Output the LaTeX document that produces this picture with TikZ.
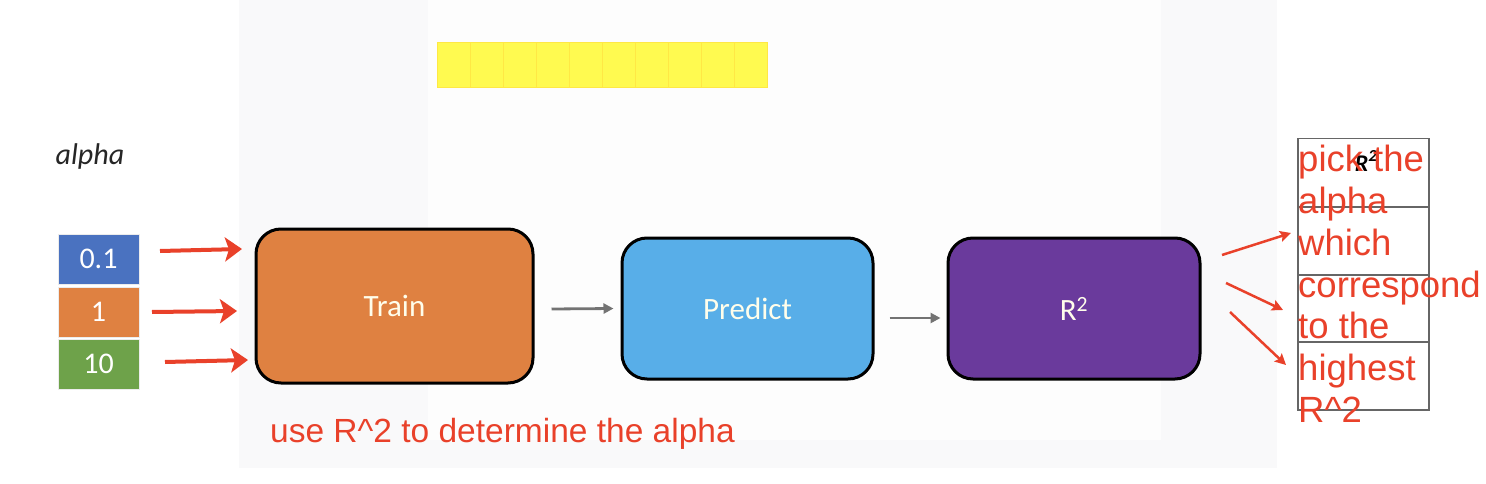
\documentclass[tikz,border=0pt]{standalone}
\usepackage{fontspec}
\setmainfont{Carlito}
\newfontfamily\notefont{Liberation Sans}
\usetikzlibrary{arrows.meta}
\definecolor{noteRed}{HTML}{E9412A}
\definecolor{alphaBlue}{HTML}{4A72C0}
\definecolor{alphaOrange}{HTML}{DF8141}
\definecolor{alphaGreen}{HTML}{6EA24A}
\definecolor{trainOrange}{HTML}{DF8141}
\definecolor{predictBlue}{HTML}{58AEE8}
\definecolor{rPurple}{HTML}{6A3A9C}
\definecolor{yellowCell}{HTML}{FFFA50}
\definecolor{panelGray}{HTML}{F9F9FA}
\definecolor{innerGray}{HTML}{FDFDFD}
\tikzset{
  alphabox/.style={draw=white!85!gray, line width=1pt, minimum width=81pt, minimum height=50pt, inner sep=0pt, text=white, font=\fontsize{30}{32}\selectfont},
  stepbox/.style={draw=black, line width=3pt, rounded corners=25pt, inner sep=0pt, text=white!92!yellow, font=\fontsize{31}{34}\selectfont},
  flowarrow/.style={draw=gray!90!black, line width=2.8pt, -{Triangle[length=10pt,width=10pt]}},
  bigred/.style={draw=noteRed, line width=4pt, -{Stealth[length=17pt,width=24pt,inset=4pt]}},
  thinred/.style={draw=noteRed, line width=2.5pt, -{Stealth[length=11pt,width=11pt,inset=2pt]}},
  cell/.style={draw=gray!80!black, line width=1.8pt, minimum width=131pt, minimum height=68pt, inner sep=0pt},
  ycell/.style={fill=yellowCell, draw=yellowCell!85!orange, line width=0.8pt, minimum width=33pt, minimum height=45pt, inner sep=0pt}
}
\begin{document}
\begin{tikzpicture}[x=1pt,y=-1pt]
\useasboundingbox (0,0) rectangle (1486,484);
\fill[white] (0,0) rectangle (1486,484);
\fill[panelGray] (239,0) rectangle (1277,468);
\fill[innerGray] (428,0) rectangle (1161,440);

% yellow cells
\foreach \i in {0,...,9} {
  \node[ycell] (y\i) at (453.5+33*\i,64.5) {};
}

% alpha label and boxes
\node[font=\itshape\fontsize{30}{32}\selectfont, text=black!85] (alphalabel) at (90,157) {alpha};
\node[alphabox, fill=alphaBlue] (a01) at (98.5,259) {0.1};
\node[alphabox, fill=alphaOrange] (a1) at (98.5,312) {1};
\node[alphabox, fill=alphaGreen] (a10) at (98.5,364) {10};

% process boxes
\node[stepbox, fill=trainOrange, minimum width=277pt, minimum height=154pt] (train) at (394.5,306) {Train};
\node[stepbox, fill=predictBlue, minimum width=251pt, minimum height=141pt] (predict) at (747.5,308.5) {Predict};
\node[stepbox, fill=rPurple, minimum width=252pt, minimum height=141pt] (r2) at (1074,308.5) {R\textsuperscript{2}};

% gray flow arrows
\draw[flowarrow] ([xshift=17pt,yshift=-3pt]train.east) -- ([xshift=-7pt]predict.west);
\draw[flowarrow] ([xshift=15pt,yshift=-9.5pt]predict.east) -- ([xshift=-6pt,yshift=-9.5pt]r2.west);

% table
\node[cell] (t1) at (1363.5,172.5) {};
\node[cell] (t2) at (1363.5,241) {};
\node[cell] (t3) at (1363.5,308.5) {};
\node[cell] (t4) at (1363.5,376) {};
\node[font=\bfseries\itshape\fontsize{24}{26}\selectfont] (r2head) at (1366,161) {R\textsuperscript{2}};

% left red arrows
\coordinate (l1s) at (160,251); \coordinate (l1e) at (242,249);
\coordinate (l2s) at (152,312); \coordinate (l2e) at (237,311);
\coordinate (l3s) at (165,362); \coordinate (l3e) at (248,360);
\draw[bigred] (l1s) -- (l1e);
\draw[bigred] (l2s) -- (l2e);
\draw[bigred] (l3s) -- (l3e);

% right red arrows
\coordinate (r1s) at (1222,255); \coordinate (r1e) at (1291,233);
\coordinate (r2s) at (1226,283); \coordinate (r2e) at (1283,310);
\coordinate (r3s) at (1230,312); \coordinate (r3e) at (1286,365);
\draw[thinred] (r1s) -- (r1e);
\draw[thinred] (r2s) -- (r2e);
\draw[thinred] (r3s) -- (r3e);

% red notes
\node[anchor=base west, inner sep=0pt, text=noteRed, font=\notefont\fontsize{33.5}{40}\selectfont] (bottomnote) at (270,442) {use R\^{}2 to determine the alpha};
\node[anchor=north west, inner sep=0pt, align=left, text=noteRed, font=\notefont\fontsize{36.5}{41.8}\selectfont] (sidenote) at (1298,145) {pick the\\alpha\\which\\correspond\\to the\\highest\\R\^{}2};
\end{tikzpicture}
\end{document}
